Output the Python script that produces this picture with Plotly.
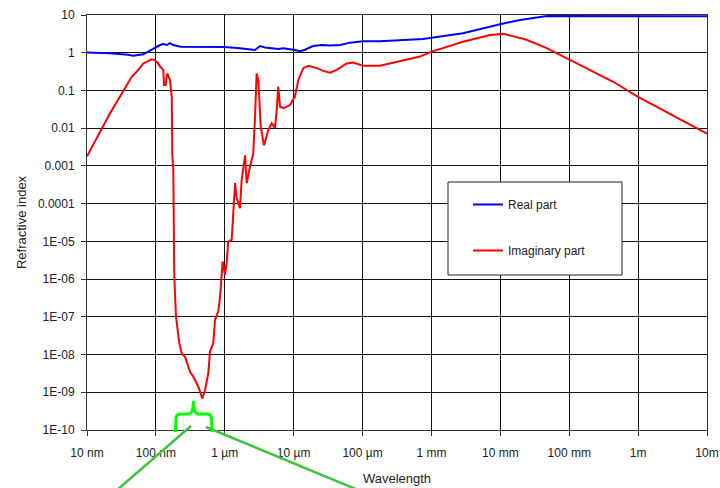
import plotly.graph_objects as go

# ---- data (wavelength in metres) ----
real_wl = [1e-8, 1.55e-8, 2.16e-8, 3.94e-8, 4.65e-8, 6.57e-8, 8.7e-8, 1.04e-7, 1.15e-7,
           1.28e-7, 1.44e-7, 1.6e-7, 1.79e-7, 2.3e-7, 1.0e-6, 1.66e-6, 2.75e-6, 3.25e-6,
           3.84e-6, 5.98e-6, 7.08e-6, 1.04e-5, 1.24e-5, 1.46e-5, 1.91e-5, 2.58e-5, 3.37e-5,
           4.71e-5, 6.58e-5, 1.01e-4, 1.79e-4, 7.54e-4, 1.05e-3, 2.87e-3, 9.9e-3, 1.93e-2,
           4.75e-2, 10.0]
real_n = [1.02, 1.0, 0.97, 0.88, 0.83, 0.91, 1.24, 1.45, 1.6,
          1.7, 1.6, 1.8, 1.6, 1.45, 1.42, 1.32, 1.18, 1.5,
          1.37, 1.25, 1.32, 1.18, 1.1, 1.2, 1.5, 1.6, 1.55,
          1.6, 1.85, 2.0, 2.0, 2.3, 2.5, 3.3, 5.7, 7.4,
          9.4, 9.3]

imag_wl = [1e-8, 1.55e-8, 2.16e-8, 3.56e-8, 4.46e-8, 5.56e-8, 6.57e-8, 8.69e-8, 9.7e-8,
           1.08e-7, 1.15e-7, 1.28e-7, 1.31e-7, 1.39e-7, 1.44e-7, 1.48e-7, 1.6e-7, 1.7e-7,
           1.73e-7, 1.79e-7, 1.85e-7, 1.96e-7, 2.19e-7, 2.37e-7, 2.65e-7, 3.13e-7, 3.49e-7,
           4.13e-7, 4.72e-7, 5.17e-7, 5.77e-7, 6.1e-7, 6.81e-7, 7.21e-7, 8.05e-7, 8.53e-7,
           9.33e-7, 1.007e-6, 1.07e-6, 1.12e-6, 1.26e-6, 1.41e-6, 1.49e-6, 1.66e-6, 1.76e-6,
           1.97e-6, 2.08e-6, 2.32e-6, 2.59e-6, 2.75e-6, 2.9e-6, 3.07e-6, 3.32e-6, 3.71e-6,
           4.28e-6, 4.8e-6, 5.36e-6, 5.67e-6, 5.98e-6, 6.34e-6, 7.08e-6, 8.86e-6, 1.04e-5,
           1.17e-5, 1.38e-5, 1.63e-5, 2.16e-5, 2.69e-5, 3.37e-5, 4.21e-5, 5.89e-5, 7.35e-5,
           1.01e-4, 1.79e-4, 6.82e-4, 1.01e-3, 2.87e-3, 7.08e-3, 1.1e-2, 1.46e-2, 2.41e-2,
           4.71e-2, 0.102, 0.223, 0.436, 1.0, 2.32, 10.0]
imag_k = [0.0018, 0.008, 0.025, 0.115, 0.23, 0.35, 0.52, 0.67, 0.64,
          0.52, 0.43, 0.35, 0.14, 0.14, 0.26, 0.27, 0.19, 0.068,
          0.002, 8e-4, 1.15e-6, 1e-7, 2e-8, 1.07e-8, 8.7e-9, 3.5e-9, 2.6e-9,
          1.4e-9, 6.9e-10, 1.15e-9, 3.2e-9, 1.2e-8, 2e-8, 8.3e-8, 1.4e-7, 3.4e-7,
          2.9e-6, 1.3e-6, 2.9e-6, 9.8e-6, 1.1e-5, 3.5e-4, 1.4e-4, 7.6e-5, 4.3e-4,
          1.9e-3, 3.5e-4, 9.5e-4, 2.1e-3, 0.02, 0.28, 0.19, 0.011, 0.0035,
          0.0089, 0.0135, 0.01, 0.03, 0.126, 0.037, 0.034, 0.041, 0.068,
          0.19, 0.39, 0.45, 0.39, 0.33, 0.295, 0.35, 0.52, 0.55,
          0.45, 0.45, 0.79, 1.07, 1.95, 2.95, 3.16, 2.8, 2.2,
          1.32, 0.65, 0.32, 0.17, 0.068, 0.030, 0.0072]

x_tickvals = [1e-8, 1e-7, 1e-6, 1e-5, 1e-4, 1e-3, 1e-2, 1e-1, 1, 10]
x_ticktext = ["10 nm", "100 nm", "1 µm", "10 µm", "100 µm", "1 mm", "10 mm", "100 mm", "1m", "10m"]
y_tickvals = [1e-10, 1e-9, 1e-8, 1e-7, 1e-6, 1e-5, 1e-4, 1e-3, 1e-2, 1e-1, 1, 10]
y_ticktext = ["1E-10", "1E-09", "1E-08", "1E-07", "1E-06", "1E-05", "0.0001", "0.001",
              "0.01", "0.1", "1", "10"]

FONT = "Liberation Sans, Arial, sans-serif"

fig = go.Figure()
fig.add_trace(go.Scatter(x=real_wl, y=real_n, mode="lines", name="Real part",
                         line=dict(color="#0000ff", width=2), legendgroup="a"))
fig.add_trace(go.Scatter(x=imag_wl, y=imag_k, mode="lines", name="Imaginary part",
                         line=dict(color="#ff0000", width=2), legendgroup="b"))

# plot area in pixels (for decorations)
L, R, T, B = 87, 707, 15, 430


def px(x, y):
    return (x - L) / (R - L), (B - y) / (B - T)


shapes = []
# legend box
x0, y0 = px(448, 182)
x1, y1 = px(622, 275)
shapes.append(dict(type="rect", xref="paper", yref="paper", x0=x0, y0=y1, x1=x1, y1=y0,
                   fillcolor="white", line=dict(color="#222", width=1), layer="above"))

# brace marking the visible range
pts = [("M", 175.5, 432), ("L", 176, 418), ("Q", 176.5, 414), (None, 181, 414), ("L", 189, 414),
       ("Q", 193, 414), (None, 193.5, 401), ("Q", 194, 414), (None, 198, 414), ("L", 206, 414),
       ("Q", 211, 414), (None, 211.5, 418), ("L", 212, 432)]
path = ""
for cmd, xx, yy in pts:
    a, b = px(xx, yy)
    path += (cmd if cmd else " ") + f"{a:.5f},{b:.5f} "
shapes.append(dict(type="path", xref="paper", yref="paper", path=path.strip(),
                   line=dict(color="#00ff00", width=3), layer="above"))
for (xa, ya), (xb, yb) in [((191, 426), (117, 490)), ((206, 427), (358, 490))]:
    a0, b0 = px(xa, ya)
    a1, b1 = px(xb, yb)
    shapes.append(dict(type="line", xref="paper", yref="paper", x0=a0, y0=b0, x1=a1, y1=b1,
                       line=dict(color="#3cc43c", width=2.5), layer="above"))

lx, ly = px(468, 190)

fig.update_layout(
    width=720, height=488,
    margin=dict(l=L, r=720 - R, t=T, b=488 - B, autoexpand=False),
    paper_bgcolor="white", plot_bgcolor="white",
    font=dict(family=FONT, size=12, color="#222"),
    shapes=shapes,
    showlegend=True,
    legend=dict(x=lx, y=ly, xanchor="left", yanchor="top", bgcolor="rgba(0,0,0,0)",
                borderwidth=0, font=dict(size=12, color="#222"), tracegroupgap=27,
                itemwidth=30),
    xaxis=dict(type="log", range=[-8, 1], tickvals=x_tickvals, ticktext=x_ticktext,
               showgrid=True, gridcolor="#111", gridwidth=1, showline=True, mirror=True,
               linecolor="#333", linewidth=1, ticks="outside", ticklen=5, tickcolor="#333",
               zeroline=False, tickfont=dict(size=12, color="#222"), ticklabelstandoff=7,
               title=dict(text="Wavelength", font=dict(size=13, color="#222"), standoff=14)),
    yaxis=dict(type="log", range=[-10, 1], tickvals=y_tickvals, ticktext=y_ticktext,
               showgrid=True, gridcolor="#111", gridwidth=1, showline=True, mirror=True,
               linecolor="#333", linewidth=1, ticks="outside", ticklen=5, tickcolor="#333",
               zeroline=False, tickfont=dict(size=12, color="#222"), ticklabelstandoff=4,
               title=dict(text="Refractive index", font=dict(size=13, color="#222"), standoff=8)),
)

fig.write_html("out.html")
